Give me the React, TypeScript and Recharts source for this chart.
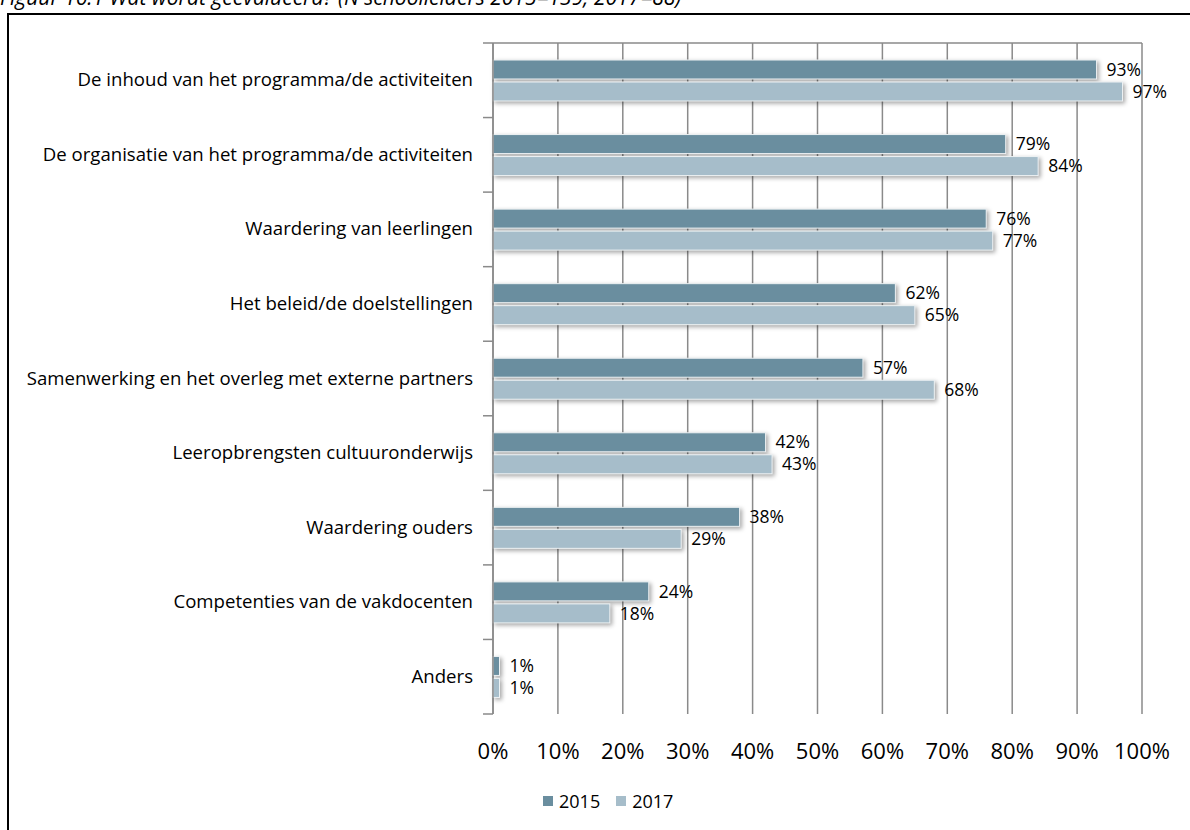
import { BarChart, Bar, XAxis, YAxis, CartesianGrid, LabelList } from "recharts";

const categories = [
  "De inhoud van het programma/de activiteiten",
  "De organisatie van het programma/de activiteiten",
  "Waardering van leerlingen",
  "Het beleid/de doelstellingen",
  "Samenwerking en het overleg met externe partners",
  "Leeropbrengsten cultuuronderwijs",
  "Waardering ouders",
  "Competenties van de vakdocenten",
  "Anders",
];
const values2015 = [93, 79, 76, 62, 57, 42, 38, 24, 1];
const values2017 = [97, 84, 77, 65, 68, 43, 29, 18, 1];
const xTicks = [0, 10, 20, 30, 40, 50, 60, 70, 80, 90, 100];
const seriesNames = ["2015", "2017"];

const data = categories.map((name, i) => ({
  name,
  y2015: values2015[i],
  y2017: values2017[i],
}));

const FONT = "'Open Sans', sans-serif";
const GRID = "#8a8a8a";
const C2015 = "#6a8e9f";
const C2017 = "#a6bdca";

const PLOT_TOP = 43;
const PLOT_BOTTOM = 714;
const BAND = (PLOT_BOTTOM - PLOT_TOP) / categories.length;

function CategoryTick(props: any) {
  const { x, y, payload, index } = props;
  const half = BAND / 2;
  return (
    <g>
      <text
        x={x - 20}
        y={y}
        dy={6}
        textAnchor="end"
        fill="#000"
        fontSize={18.6}
        fontFamily={FONT}
      >
        {payload.value}
      </text>
      <line x1={x - 10} x2={x} y1={y - half} y2={y - half} stroke={GRID} strokeWidth={1.5} />
      {index === categories.length - 1 && (
        <line x1={x - 10} x2={x} y1={y + half} y2={y + half} stroke={GRID} strokeWidth={1.5} />
      )}
    </g>
  );
}

function ShadowBar(props: any) {
  const { x, y, width, height, fill } = props;
  if (!width || width <= 0) return null;
  return (
    <rect
      x={x}
      y={y}
      width={width}
      height={height}
      fill={fill}
      stroke="#eef2f4"
      strokeWidth={1}
      style={{ filter: "drop-shadow(2px 2px 2px rgba(0,0,0,0.35))" }}
    />
  );
}

export default function App() {
  return (
    <div
      style={{
        position: "absolute",
        left: 0,
        top: 0,
        width: 1190,
        height: 830,
        overflow: "hidden",
        background: "#fff",
      }}
    >
      <div
        style={{
          position: "absolute",
          left: 0,
          top: -13,
          fontFamily: FONT,
          fontStyle: "italic",
          fontSize: 21,
          lineHeight: "21px",
          whiteSpace: "nowrap",
          color: "#000",
        }}
      >
        Figuur 16.1 Wat wordt geëvalueerd? (N schoolleiders 2015=139; 2017=88)
      </div>
      <div
        style={{
          position: "absolute",
          left: 7,
          top: 13,
          width: 1230,
          height: 900,
          border: "2px solid #000",
        }}
      />
      <div style={{ position: "absolute", left: 0, top: 0 }}>
        <BarChart
          width={1190}
          height={830}
          data={data}
          layout="vertical"
          margin={{ top: PLOT_TOP - 1, right: 48, left: 0, bottom: 830 - PLOT_BOTTOM - 60 }}
          barSize={19}
          barGap={3}
        >
          <CartesianGrid
            horizontal={false}
            stroke={GRID}
            strokeWidth={1.5}
            xAxisId="bottom"
          />
          <XAxis
            xAxisId="top"
            orientation="top"
            type="number"
            domain={[0, 100]}
            ticks={xTicks}
            height={1}
            tick={false}
            tickSize={9}
            stroke={GRID}
            strokeWidth={1.5}
          />
          <XAxis
            xAxisId="bottom"
            orientation="bottom"
            type="number"
            domain={[0, 100]}
            ticks={xTicks}
            height={60}
            axisLine={false}
            tickLine={false}
            tickSize={0}
            tickMargin={29}
            tickFormatter={(v: number) => `${v}%`}
            tick={{ fill: "#000", fontSize: 22, fontFamily: FONT }}
          />
          <YAxis
            type="category"
            dataKey="name"
            width={493}
            tickLine={false}
            tickSize={0}
            tickMargin={0}
            stroke={GRID}
            strokeWidth={1.5}
            tick={<CategoryTick />}
            interval={0}
          />
          <Bar
            dataKey="y2015"
            name={seriesNames[0]}
            xAxisId="bottom"
            fill={C2015}
            shape={<ShadowBar />}
            isAnimationActive={false}
          >
            <LabelList
              dataKey="y2015"
              position="right"
              offset={10}
              formatter={(v: any) => `${v}%`}
              style={{ fill: "#000", fontSize: 17.5, fontFamily: FONT }}
            />
          </Bar>
          <Bar
            dataKey="y2017"
            name={seriesNames[1]}
            xAxisId="bottom"
            fill={C2017}
            shape={<ShadowBar />}
            isAnimationActive={false}
          >
            <LabelList
              dataKey="y2017"
              position="right"
              offset={10}
              formatter={(v: any) => `${v}%`}
              style={{ fill: "#000", fontSize: 17.5, fontFamily: FONT }}
            />
          </Bar>
        </BarChart>
      </div>
      <div
        style={{
          position: "absolute",
          left: 543,
          top: 789,
          display: "flex",
          alignItems: "center",
          fontFamily: FONT,
          fontSize: 18,
          color: "#000",
        }}
      >
        {seriesNames.map((s, i) => (
          <div key={s} style={{ display: "flex", alignItems: "center", marginRight: 16 }}>
            <span
              style={{
                display: "inline-block",
                width: 10,
                height: 10,
                background: i === 0 ? C2015 : C2017,
                marginRight: 6,
              }}
            />
            {s}
          </div>
        ))}
      </div>
    </div>
  );
}
